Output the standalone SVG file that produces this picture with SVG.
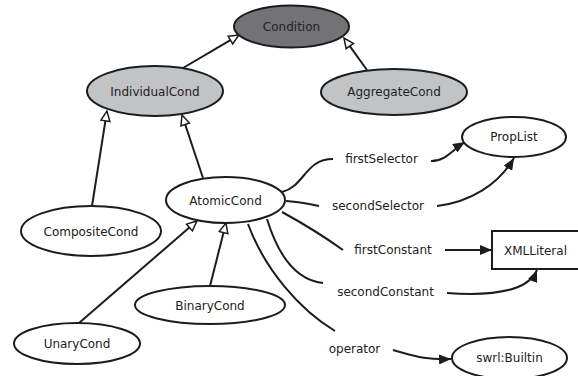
<svg xmlns="http://www.w3.org/2000/svg" width="578" height="376" viewBox="0 0 578 376">
<style>
.n{stroke:#1c1c1c;stroke-width:2;fill:#fff}
.dark{fill:#737376}
.light{fill:#c2c3c5}
.t{font-family:"DejaVu Sans",sans-serif;font-size:12px;fill:#222;text-anchor:middle}
.e{fill:none;stroke:#1c1c1c;stroke-width:2}
.inh{marker-end:url(#tri)}
.ref{marker-end:url(#arr)}
</style>
<defs>
<marker id="tri" viewBox="0 0 12 11" refX="1" refY="5.5" markerWidth="12" markerHeight="11" markerUnits="userSpaceOnUse" orient="auto"><path d="M1,1 L11,5.5 L1,10 z" fill="#fff" stroke="#1c1c1c" stroke-width="1.5"/></marker>
<marker id="arr" viewBox="0 0 12 10" refX="12" refY="5" markerWidth="12" markerHeight="10" markerUnits="userSpaceOnUse" orient="auto"><path d="M0,0 L12,5 L0,10 z" fill="#1c1c1c"/></marker>
</defs>
<rect width="578" height="376" fill="#fff"/>
<g id="connectors">
<line class="e inh" x1="183" y1="68" x2="230.4" y2="40.1"/>
<line class="e inh" x1="367" y1="70" x2="349.8" y2="46.1"/>
<line class="e inh" x1="92" y1="206" x2="105.4" y2="120.9"/>
<line class="e inh" x1="203" y1="178" x2="185.2" y2="124.5"/>
<line class="e inh" x1="79" y1="323" x2="189.4" y2="227.5"/>
<line class="e inh" x1="210" y1="286" x2="223.5" y2="232.7"/>
<path class="e" d="M282,192 C305,186 305,159 333,159"/>
<path class="e" d="M286,201 C300,202 310,204 319,206"/>
<path class="e" d="M282,212 Q315,230 343,250"/>
<path class="e" d="M267,219 C278,255 295,280 323,283"/>
<path class="e" d="M248,224 C265,270 300,310 335,331"/>
<path class="e ref" d="M431,161 C446,161 452,150 465,142"/>
<path class="e ref" d="M437,206 C470,202 498,185 514,158"/>
<path class="e ref" d="M445,250 L492,250"/>
<path class="e ref" d="M447,293 C490,296 528,292 537,270"/>
<path class="e ref" d="M393,350 C415,356 425,360 451,359"/>
<text class="t" x="381.5" y="163">firstSelector</text>
<text class="t" x="378" y="210">secondSelector</text>
<text class="t" x="393" y="254">firstConstant</text>
<text class="t" x="385.5" y="296">secondConstant</text>
<text class="t" x="354.5" y="353">operator</text>
</g>
<g id="Condition"><ellipse class="n dark" cx="291.5" cy="26.5" rx="57.5" ry="21"/><text class="t" x="291.5" y="31">Condition</text></g>
<g id="IndividualCond"><ellipse class="n light" cx="155" cy="91" rx="68" ry="25"/><text class="t" x="155" y="95.5">IndividualCond</text></g>
<g id="AggregateCond"><ellipse class="n light" cx="394" cy="92" rx="73" ry="23"/><text class="t" x="394" y="96">AggregateCond</text></g>
<g id="PropList"><ellipse class="n" cx="514" cy="137" rx="52" ry="20"/><text class="t" x="514" y="141">PropList</text></g>
<g id="AtomicCond"><ellipse class="n" cx="225.5" cy="200" rx="59.5" ry="23"/><text class="t" x="225.5" y="204.5">AtomicCond</text></g>
<g id="CompositeCond"><ellipse class="n" cx="91" cy="231" rx="70" ry="25"/><text class="t" x="91" y="236">CompositeCond</text></g>
<g id="BinaryCond"><ellipse class="n" cx="210" cy="305" rx="75" ry="19"/><text class="t" x="210" y="309.5">BinaryCond</text></g>
<g id="UnaryCond"><ellipse class="n" cx="77" cy="343.5" rx="63" ry="20.5"/><text class="t" x="77" y="348">UnaryCond</text></g>
<g id="XMLLiteral"><rect class="n" x="492" y="231" width="90" height="38"/><text class="t" x="535.5" y="255">XMLLiteral</text></g>
<g id="swrlBuiltin"><ellipse class="n" cx="509.5" cy="358" rx="57.5" ry="21"/><text class="t" x="509.5" y="362">swrl:Builtin</text></g>
</svg>
